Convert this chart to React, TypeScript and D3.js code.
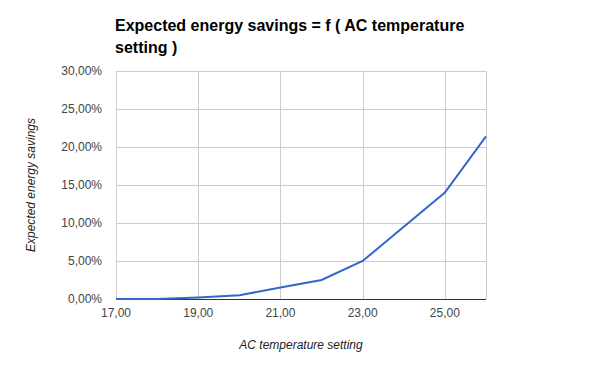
import React, { useEffect, useRef } from 'react'
import * as d3 from 'd3'

const temperatures = [17, 18, 19, 20, 21, 22, 23, 24, 25, 26]
const savings = [0, 0, 0.002, 0.005, 0.015, 0.025, 0.05, 0.095, 0.14, 0.214]
const xTicks = [17, 19, 21, 23, 25]
const yTicks = [0, 0.05, 0.1, 0.15, 0.2, 0.25, 0.3]

const locale = d3.formatLocale({ decimal: ',', thousands: '.', grouping: [3], currency: ['', '€'] })
const fmtPct = locale.format('.2%')
const fmtNum = locale.format('.2f')

const App = () => {
  const ref = useRef<SVGSVGElement>(null)

  useEffect(() => {
    const svg = d3.select(ref.current)
    svg.selectAll('*').remove()

    const left = 116, right = 486, top = 71, bottom = 299
    const x = d3.scaleLinear().domain([17, 26]).range([left, right])
    const y = d3.scaleLinear().domain([0, 0.3]).range([bottom, top])
    const font = 'Liberation Sans, Arial, sans-serif'

    svg.append('rect').attr('width', 600).attr('height', 371).attr('fill', '#fff')

    // title
    const title = svg.append('text')
      .attr('font-family', font)
      .attr('font-size', 16)
      .attr('font-weight', 'bold')
      .attr('fill', '#000')
    title.append('tspan').attr('x', 115).attr('y', 31).text('Expected energy savings = f ( AC temperature')
    title.append('tspan').attr('x', 115).attr('y', 53).text('setting )')

    // grid
    const g = svg.append('g')
    g.selectAll('line.h')
      .data(yTicks)
      .enter().append('line')
      .attr('x1', left).attr('x2', right)
      .attr('y1', d => Math.round(y(d)) + 0.5).attr('y2', d => Math.round(y(d)) + 0.5)
      .attr('stroke', '#ccc')
    g.selectAll('line.v')
      .data(xTicks.concat([26]))
      .enter().append('line')
      .attr('x1', d => Math.round(x(d)) + 0.5).attr('x2', d => Math.round(x(d)) + 0.5)
      .attr('y1', top).attr('y2', bottom)
      .attr('stroke', '#ccc')

    // baseline
    g.append('line')
      .attr('x1', left).attr('x2', right)
      .attr('y1', bottom + 0.5).attr('y2', bottom + 0.5)
      .attr('stroke', '#333')

    // tick labels
    g.selectAll('text.y')
      .data(yTicks)
      .enter().append('text')
      .attr('x', left - 14)
      .attr('y', d => y(d) + 4)
      .attr('text-anchor', 'end')
      .attr('font-family', font)
      .attr('font-size', 12)
      .attr('fill', '#444')
      .text(d => fmtPct(d))
    g.selectAll('text.x')
      .data(xTicks)
      .enter().append('text')
      .attr('x', d => x(d))
      .attr('y', bottom + 18)
      .attr('text-anchor', 'middle')
      .attr('font-family', font)
      .attr('font-size', 12)
      .attr('fill', '#444')
      .text(d => fmtNum(d))

    // axis titles
    svg.append('text')
      .attr('x', (left + right) / 2)
      .attr('y', 349)
      .attr('text-anchor', 'middle')
      .attr('font-family', font)
      .attr('font-size', 12)
      .attr('font-style', 'italic')
      .attr('fill', '#222')
      .text('AC temperature setting')
    svg.append('text')
      .attr('transform', `translate(35, ${(top + bottom) / 2}) rotate(-90)`)
      .attr('text-anchor', 'middle')
      .attr('font-family', font)
      .attr('font-size', 12)
      .attr('font-style', 'italic')
      .attr('fill', '#222')
      .text('Expected energy savings')

    // line
    const line = d3.line<number>()
      .x((d, i) => x(temperatures[i]))
      .y(d => y(d))
    svg.append('path')
      .datum(savings)
      .attr('d', line)
      .attr('fill', 'none')
      .attr('stroke', '#3366cc')
      .attr('stroke-width', 2)
  }, [])

  return (
    <svg ref={ref} width={600} height={371} style={{ position: 'absolute', left: 0, top: 0 }} />
  )
}

export default App
